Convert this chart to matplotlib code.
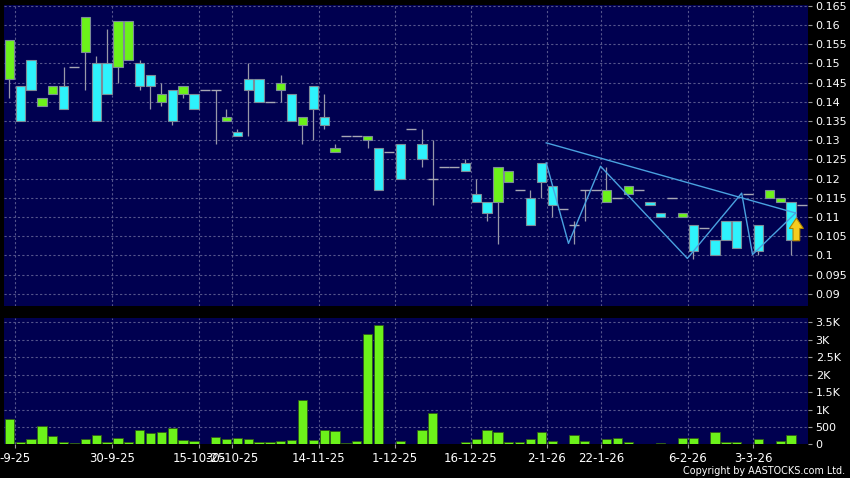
import numpy as np
import matplotlib
matplotlib.use("Agg")
import matplotlib.pyplot as plt
from matplotlib.patches import Polygon

# daily candles, one entry per session
opens = [0.156, 0.135, 0.143, 0.141, 0.144, 0.138, 0.149, 0.162, 0.135, 0.142,
         0.161, 0.161, 0.144, 0.144, 0.142, 0.135, 0.144, 0.138, 0.143, 0.143,
         0.136, 0.131, 0.143, 0.140, 0.140, 0.145, 0.135, 0.136, 0.138, 0.134,
         0.128, 0.131, 0.131, 0.131, 0.117, 0.127, 0.120, 0.133, 0.125, 0.120,
         0.123, 0.123, 0.122, 0.114, 0.111, 0.123, 0.122, 0.117, 0.108, 0.119,
         0.113, 0.112, 0.108, 0.117, 0.117, 0.117, 0.115, 0.118, 0.117, 0.113,
         0.110, 0.115, 0.111, 0.101, 0.107, 0.100, 0.104, 0.102, 0.116, 0.101,
         0.117, 0.115, 0.104, 0.113]
highs = [0.156, 0.144, 0.151, 0.141, 0.144, 0.149, 0.149, 0.162, 0.152, 0.159,
         0.161, 0.161, 0.151, 0.147, 0.145, 0.143, 0.144, 0.142, 0.143, 0.143,
         0.138, 0.133, 0.150, 0.146, 0.140, 0.147, 0.142, 0.136, 0.144, 0.142,
         0.129, 0.131, 0.131, 0.131, 0.128, 0.127, 0.129, 0.133, 0.133, 0.130,
         0.123, 0.123, 0.125, 0.120, 0.114, 0.123, 0.122, 0.117, 0.117, 0.124,
         0.118, 0.112, 0.109, 0.117, 0.117, 0.123, 0.115, 0.118, 0.117, 0.114,
         0.111, 0.115, 0.111, 0.108, 0.107, 0.104, 0.109, 0.109, 0.116, 0.108,
         0.117, 0.115, 0.114, 0.113]
lows = [0.141, 0.135, 0.143, 0.139, 0.142, 0.138, 0.149, 0.143, 0.135, 0.142,
        0.145, 0.151, 0.143, 0.138, 0.139, 0.134, 0.141, 0.138, 0.143, 0.129,
        0.135, 0.131, 0.131, 0.140, 0.140, 0.140, 0.135, 0.129, 0.130, 0.133,
        0.127, 0.131, 0.131, 0.128, 0.117, 0.127, 0.120, 0.133, 0.123, 0.113,
        0.123, 0.123, 0.122, 0.114, 0.109, 0.103, 0.119, 0.117, 0.108, 0.115,
        0.110, 0.112, 0.103, 0.109, 0.117, 0.114, 0.115, 0.116, 0.117, 0.113,
        0.110, 0.115, 0.110, 0.099, 0.107, 0.100, 0.104, 0.102, 0.116, 0.100,
        0.115, 0.114, 0.100, 0.113]
closes = [0.146, 0.144, 0.151, 0.139, 0.142, 0.144, 0.149, 0.153, 0.150, 0.150,
          0.149, 0.151, 0.150, 0.147, 0.140, 0.143, 0.142, 0.142, 0.143, 0.143,
          0.135, 0.132, 0.146, 0.146, 0.140, 0.143, 0.142, 0.134, 0.144, 0.136,
          0.127, 0.131, 0.131, 0.130, 0.128, 0.127, 0.129, 0.133, 0.129, 0.120,
          0.123, 0.123, 0.124, 0.116, 0.114, 0.114, 0.119, 0.117, 0.115, 0.124,
          0.118, 0.112, 0.108, 0.117, 0.117, 0.114, 0.115, 0.116, 0.117, 0.114,
          0.111, 0.115, 0.110, 0.108, 0.107, 0.104, 0.109, 0.109, 0.116, 0.108,
          0.115, 0.114, 0.114, 0.113]
volumes = [720, 58, 144, 519, 240, 67, 30, 163, 279, 67,
           192, 67, 413, 327, 346, 471, 135, 106, 20, 211,
           163, 173, 163, 67, 67, 106, 125, 1279, 135, 423,
           385, 38, 87, 3173, 3413, 19, 96, 19, 423, 894,
           0, 0, 77, 163, 423, 365, 77, 77, 154, 346,
           96, 0, 269, 96, 0, 163, 192, 77, 0, 0,
           38, 0, 192, 192, 0, 346, 77, 58, 0, 144,
           0, 96, 269, 0]

date_labels = ["-9-25", "30-9-25", "15-10-25", "30-10-25", "14-11-25", "1-12-25",
               "16-12-25", "2-1-26", "22-1-26", "6-2-26", "3-3-26"]
date_pos = [0.5, 9.5, 17.5, 20.5, 28.5, 35.5, 42.5, 49.5, 54.5, 62.5, 68.5]

# drawn pattern lines
zigzag_x = [49.45, 51.5, 54.45, 62.45, 67.45, 68.45, 72.45]
zigzag_y = [0.1241, 0.1031, 0.1232, 0.0992, 0.1162, 0.1002, 0.1111]
trend_x = [49.45, 72.45]
trend_y = [0.1293, 0.1110]

# signal arrow on the last session
arrow_x = 72.49
arrow_lo, arrow_neck, arrow_hi = 0.1038, 0.1070, 0.1097

price_ticks = [round(v, 3) for v in np.arange(0.09, 0.1651, 0.005)]
vol_ticks = [0, 500, 1000, 1500, 2000, 2500, 3000, 3500]
vol_labels = ["0", "500", "1K", "1.5K", "2K", "2.5K", "3K", "3.5K"]

BG = "#000050"
GRID = "#55558c"
UP = "#2ef2fc"
DOWN = "#6cf21a"

fig = plt.figure(figsize=(8.5, 4.78), dpi=100, facecolor="black")
ax = fig.add_axes([0.0047, 0.3598, 0.9459, 0.6297])
axv = fig.add_axes([0.0047, 0.0701, 0.9459, 0.2646])

x = np.arange(len(opens))
for a in (ax, axv):
    a.set_facecolor(BG)
    a.set_xlim(-0.49, 73.56)
    for s in a.spines.values():
        s.set_visible(False)
    a.yaxis.tick_right()
    a.tick_params(axis="y", length=3, width=0.8, color="#9a9a9a",
                  labelcolor="white", labelsize=8, pad=2.5)
    for p in date_pos:
        a.axvline(p, color=GRID, lw=0.8, ls=(0, (2, 2)), zorder=0)

# price panel
ax.set_ylim(0.0868, 0.1652)
ax.set_yticks(price_ticks)
ax.set_yticklabels([f"{v:g}" for v in price_ticks])
ax.set_xticks([])
for v in price_ticks:
    ax.axhline(v, color=GRID, lw=0.8, ls=(0, (2, 2)), zorder=0)

o = np.array(opens)
c = np.array(closes)
h = np.array(highs)
l = np.array(lows)
doji = o == c
body = ~doji

ax.vlines(x, l, h, color="#9898a8", lw=0.9, zorder=2)
ax.hlines(o[doji], x[doji] - 0.46, x[doji] + 0.46, color="#a8a8b4", lw=1.0, zorder=3)
colors = [UP if cc > oo else DOWN for oo, cc in zip(o[body], c[body])]
ax.bar(x[body], np.abs(c - o)[body], bottom=np.minimum(o, c)[body], width=0.86,
       color=colors, edgecolor="#7c8c98", linewidth=0.8, zorder=3)

ax.plot(trend_x, trend_y, color="#4aa2e0", lw=1.0, zorder=4)
ax.plot(zigzag_x, zigzag_y, color="#4aa2e0", lw=1.0, zorder=4)

hw, sw = 0.645, 0.31
arrow = Polygon([(arrow_x - sw, arrow_lo), (arrow_x + sw, arrow_lo),
                 (arrow_x + sw, arrow_neck), (arrow_x + hw, arrow_neck),
                 (arrow_x, arrow_hi), (arrow_x - hw, arrow_neck),
                 (arrow_x - sw, arrow_neck)],
                closed=True, facecolor="#f5cc1e", edgecolor="#b08400", lw=0.8, zorder=5)
ax.add_patch(arrow)

# volume panel
axv.bar(x, volumes, width=0.86, color=DOWN, edgecolor="#2f5a18", linewidth=0.6, zorder=3)
axv.set_ylim(0, 3625)
axv.set_yticks(vol_ticks)
axv.set_yticklabels(vol_labels)
for v in vol_ticks[1:]:
    axv.axhline(v, color=GRID, lw=0.8, ls=(0, (2, 2)), zorder=0)
axv.set_xticks(date_pos)
axv.set_xticklabels(date_labels)
axv.tick_params(axis="x", length=3, width=0.8, color="#9a9a9a",
                labelcolor="white", labelsize=8.5, pad=2.5)

fig.text(0.994, 0.0146, "Copyright by AASTOCKS.com Ltd.", color="white",
         fontsize=6.9, ha="right", va="center")

fig.savefig("out.png", dpi=100, facecolor="black")
